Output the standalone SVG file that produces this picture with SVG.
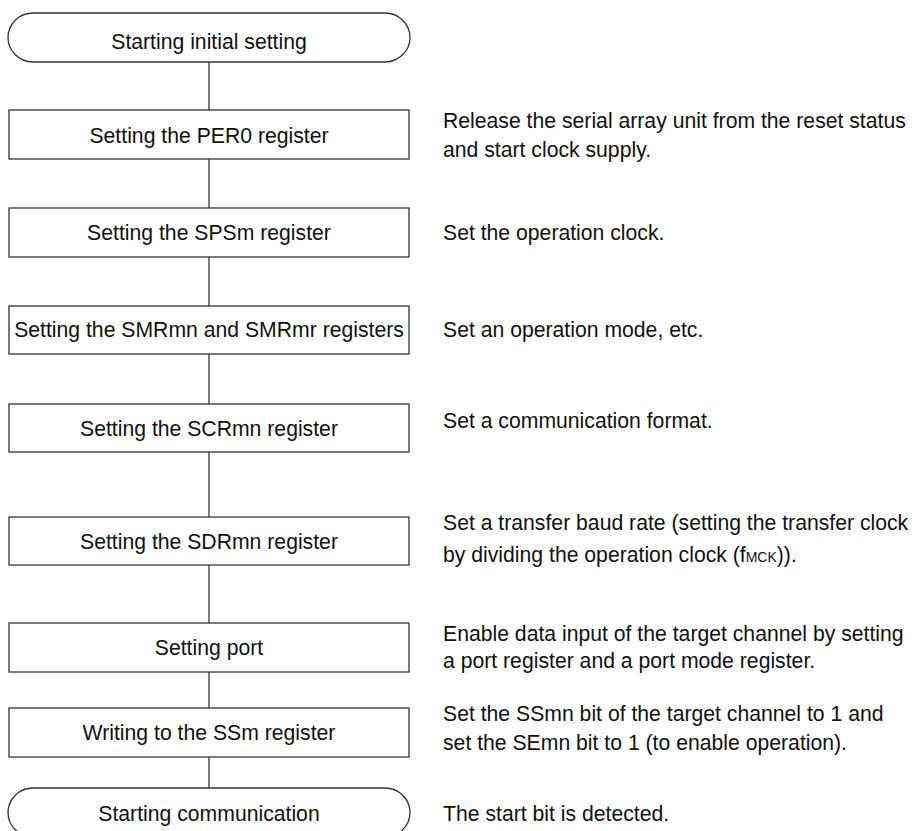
<svg xmlns="http://www.w3.org/2000/svg" width="915" height="831" viewBox="0 0 915 831">
<style>
.shape{fill:#fff;stroke:#333;stroke-width:1.3}
.conn{stroke:#333;stroke-width:1.3;fill:none}
text{font-family:"Liberation Sans",Arial,sans-serif;font-size:21.2px;fill:#111}
.c{text-anchor:middle}
</style>
<rect width="915" height="831" fill="#fff"/>
<g id="connectors">
<line class="conn" x1="209" y1="62" x2="209" y2="110"/>
<line class="conn" x1="209" y1="159" x2="209" y2="208"/>
<line class="conn" x1="209" y1="257" x2="209" y2="306"/>
<line class="conn" x1="209" y1="354" x2="209" y2="404"/>
<line class="conn" x1="209" y1="452" x2="209" y2="517"/>
<line class="conn" x1="209" y1="565" x2="209" y2="623"/>
<line class="conn" x1="209" y1="672" x2="209" y2="708"/>
<line class="conn" x1="209" y1="757" x2="209" y2="788"/>
</g>
<g id="start">
<path class="shape" d="M33,13 H385 A25,24.5 0 0 1 385,62 H33 A25,24.5 0 0 1 33,13 Z"/>
<text class="c" x="209" y="49">Starting initial setting</text>
</g>
<g id="per0">
<rect class="shape" x="9" y="110" width="400" height="49"/>
<text class="c" x="209" y="143">Setting the PER0 register</text>
<text x="443" y="128">Release the serial array unit from the reset status</text>
<text x="443" y="157">and start clock supply.</text>
</g>
<g id="spsm">
<rect class="shape" x="9" y="208" width="400" height="49"/>
<text class="c" x="209" y="240">Setting the SPSm register</text>
<text x="443" y="240">Set the operation clock.</text>
</g>
<g id="smr">
<rect class="shape" x="9" y="306" width="400" height="48"/>
<text class="c" x="209" y="337">Setting the SMRmn and SMRmr registers</text>
<text x="443" y="337">Set an operation mode, etc.</text>
</g>
<g id="scr">
<rect class="shape" x="9" y="404" width="400" height="48"/>
<text class="c" x="209" y="436">Setting the SCRmn register</text>
<text x="443" y="428">Set a communication format.</text>
</g>
<g id="sdr">
<rect class="shape" x="9" y="517" width="400" height="48"/>
<text class="c" x="209" y="549">Setting the SDRmn register</text>
<text x="443" y="530">Set a transfer baud rate (setting the transfer clock</text>
<text x="443" y="562">by dividing the operation clock (f<tspan font-size="14">MCK</tspan>)).</text>
</g>
<g id="port">
<rect class="shape" x="9" y="623" width="400" height="49"/>
<text class="c" x="209" y="655">Setting port</text>
<text x="443" y="641">Enable data input of the target channel by setting</text>
<text x="443" y="668">a port register and a port mode register.</text>
</g>
<g id="ssm">
<rect class="shape" x="9" y="708" width="400" height="49"/>
<text class="c" x="209" y="740">Writing to the SSm register</text>
<text x="443" y="721">Set the SSmn bit of the target channel to 1 and</text>
<text x="443" y="750">set the SEmn bit to 1 (to enable operation).</text>
</g>
<g id="end">
<path class="shape" d="M33,788 H385 A25,24.5 0 0 1 385,837 H33 A25,24.5 0 0 1 33,788 Z"/>
<text class="c" x="209" y="821">Starting communication</text>
<text x="443" y="821">The start bit is detected.</text>
</g>
</svg>
